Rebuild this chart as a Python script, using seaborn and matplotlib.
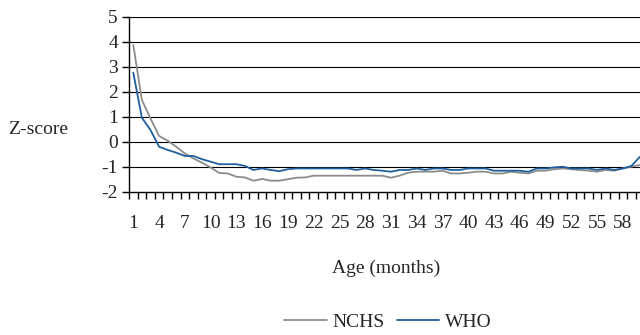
import numpy as np
import pandas as pd
import matplotlib
matplotlib.use("Agg")
import matplotlib.pyplot as plt
import seaborn as sns
from matplotlib.lines import Line2D

months = list(range(1, 61))
nchs = [3.87, 1.67, 0.93, 0.23, 0.04, -0.20, -0.47, -0.67, -0.84, -1.03,
        -1.25, -1.27, -1.40, -1.43, -1.56, -1.49, -1.56, -1.56, -1.50, -1.44,
        -1.43, -1.36, -1.36, -1.36, -1.36, -1.36, -1.36, -1.36, -1.36, -1.36,
        -1.44, -1.36, -1.24, -1.20, -1.20, -1.20, -1.16, -1.27, -1.27, -1.24,
        -1.20, -1.20, -1.27, -1.27, -1.20, -1.24, -1.27, -1.16, -1.16, -1.10,
        -1.07, -1.10, -1.13, -1.16, -1.20, -1.13, -1.16, -1.07, -1.00, -0.93]
who = [2.76, 0.96, 0.47, -0.20, -0.33, -0.44, -0.57, -0.57, -0.70, -0.80,
       -0.90, -0.90, -0.90, -0.97, -1.13, -1.07, -1.13, -1.18, -1.10, -1.07,
       -1.07, -1.07, -1.07, -1.07, -1.07, -1.07, -1.13, -1.07, -1.13, -1.16,
       -1.20, -1.13, -1.13, -1.07, -1.13, -1.07, -1.07, -1.13, -1.13, -1.07,
       -1.07, -1.07, -1.16, -1.16, -1.16, -1.16, -1.20, -1.07, -1.07, -1.03,
       -1.00, -1.07, -1.07, -1.07, -1.13, -1.07, -1.13, -1.07, -0.97, -0.60]
series_names = ["NCHS", "WHO"]
colors = {"NCHS": "#8c8c8c", "WHO": "#1f5f9e"}
x_tick_labels = [str(m) for m in range(1, 61, 3)]
y_ticks = list(range(-2, 6))

df = pd.DataFrame({
    "Age": months * 2,
    "Z": nchs + who,
    "Series": ["NCHS"] * len(months) + ["WHO"] * len(months),
})

sns.set_style("ticks")
plt.rcParams["font.family"] = ["Liberation Serif", "DejaVu Serif"]

W, H = 640.0, 335.0
fig = plt.figure(figsize=(6.4, 3.35), dpi=100)
ax = fig.add_axes([129 / W, 1 - 191.7 / H, 515.3 / W, 175 / H])

sns.lineplot(data=df, x="Age", y="Z", hue="Series", hue_order=series_names,
             palette=colors, linewidth=1.3, ax=ax, legend=False)

for yv in y_ticks[1:]:
    ax.axhline(yv, color="black", linewidth=0.8, zorder=0)

ax.set_xlim(months[0] - 0.5, months[-1] + 0.5)
ax.set_ylim(y_ticks[0], y_ticks[-1])
ax.set_xticks(list(range(1, 61, 3)))
ax.set_xticklabels(x_tick_labels, fontsize=14)
boundaries = [m - 0.5 for m in months] + [months[-1] + 0.5]
ax.set_xticks(boundaries, minor=True)
ax.tick_params(axis="x", which="major", length=0, pad=17, bottom=True)
ax.tick_params(axis="x", which="minor", length=5, width=1.0, direction="out",
               color="black", bottom=True)
ax.set_yticks(y_ticks)
ax.set_yticklabels([str(v) for v in y_ticks], fontsize=14)
ax.tick_params(axis="y", which="major", length=5, width=1.0, direction="out",
               color="black", left=True, pad=3)
ax.set_xlabel("")
ax.set_ylabel("")
for s in ["top", "right"]:
    ax.spines[s].set_visible(False)
for s in ["left", "bottom"]:
    ax.spines[s].set_color("black")
    ax.spines[s].set_linewidth(1.0)

ax.text(38 / W, 1 - 130 / H, "Z-score", fontsize=14, ha="center", va="center",
        transform=fig.transFigure)
ax.text(386 / W, 1 - 268 / H, "Age (months)", fontsize=14, ha="center", va="center",
        transform=fig.transFigure)

handles = [Line2D([0], [0], color=colors[n], linewidth=1.3) for n in series_names]
ax.legend(handles, series_names, loc="center", bbox_to_anchor=(388 / W, 1 - 322 / H),
          bbox_transform=fig.transFigure, ncol=2, frameon=False, fontsize=14,
          handlelength=2.2, handletextpad=0.3, columnspacing=0.6)

fig.savefig("out.png", dpi=100)
